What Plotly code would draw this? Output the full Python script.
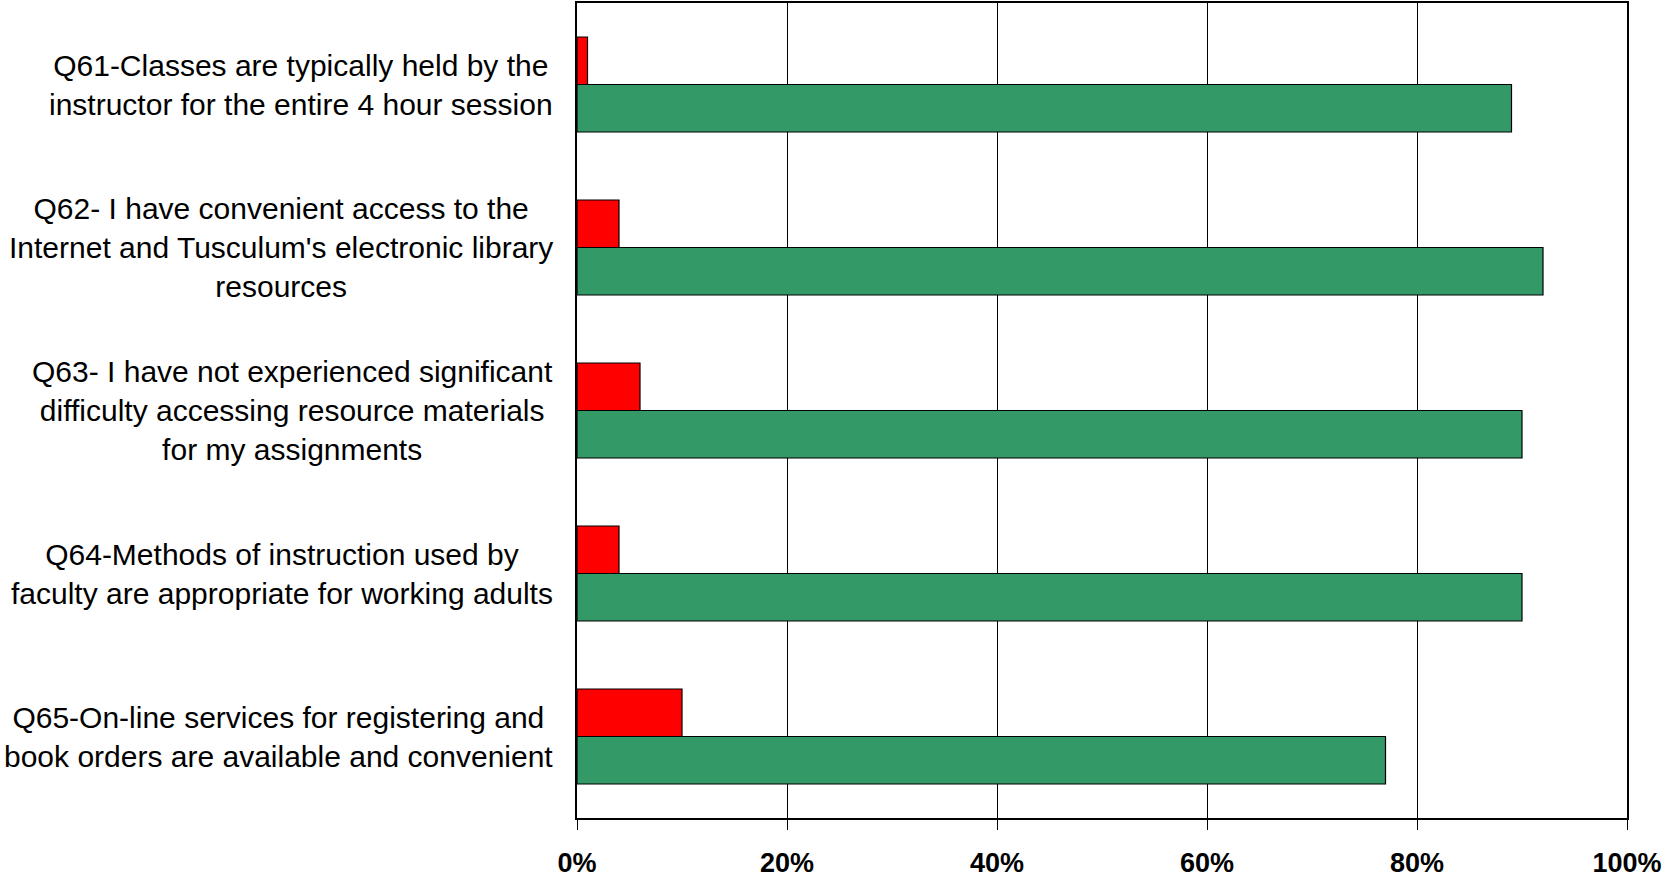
import plotly.graph_objects as go

categories = [
    "Q61-Classes are typically held by the<br>instructor for the entire 4 hour session",
    "Q62- I have convenient access to the<br>Internet and Tusculum's electronic library<br>resources",
    "Q63- I have not experienced significant<br>difficulty accessing resource materials<br>for my assignments",
    "Q64-Methods of instruction used by<br>faculty are appropriate for working adults",
    "Q65-On-line services for registering and<br>book orders are available and convenient",
]
cat_ids = ["Q61", "Q62", "Q63", "Q64", "Q65"]
disagree = [1, 4, 6, 4, 10]
agree = [89, 92, 90, 90, 77]
x_ticks = [0, 20, 40, 60, 80, 100]
x_tick_labels = ["0%", "20%", "40%", "60%", "80%", "100%"]

fig = go.Figure()
fig.add_trace(go.Bar(
    y=cat_ids, x=disagree, orientation="h", name="Disagree",
    marker=dict(color="#FF0000", line=dict(color="black", width=1.2)),
))
fig.add_trace(go.Bar(
    y=cat_ids, x=agree, orientation="h", name="Agree",
    marker=dict(color="#339966", line=dict(color="black", width=1.2)),
))

for cid, label in zip(cat_ids, categories):
    fig.add_annotation(
        x=0, y=cid, xref="x", yref="y", text=label, showarrow=False,
        xanchor="right", align="center", xshift=-22,
        font=dict(family="Liberation Sans, Arial, sans-serif", size=30, color="black"),
    )

fig.update_layout(
    width=1669, height=880,
    margin=dict(l=577, r=42, t=3, b=62, autoexpand=False),
    paper_bgcolor="white", plot_bgcolor="white",
    barmode="group", bargap=0.417, bargroupgap=0,
    showlegend=False,
    font=dict(family="Liberation Sans, Arial, sans-serif", color="black"),
)
fig.update_xaxes(
    range=[0, 100], tickmode="array", tickvals=x_ticks, ticktext=x_tick_labels,
    showgrid=True, gridcolor="black", gridwidth=1,
    showline=True, linecolor="black", linewidth=2, mirror=True,
    ticks="outside", ticklen=10, tickcolor="black", tickwidth=1,
    zeroline=False, automargin=False,
    tickfont=dict(family="Liberation Sans, Arial, sans-serif", size=27, color="black", weight="bold"),
    ticklabelstandoff=10,
)
fig.update_yaxes(
    autorange="reversed", showticklabels=False, automargin=False,
    showgrid=False, showline=True, linecolor="black", linewidth=2, mirror=True,
    ticks="", zeroline=False,
)

fig.write_html(
    "out.html",
    config={"displayModeBar": False},
    post_script="document.body.style.margin='0';document.body.style.overflow='hidden';",
)
